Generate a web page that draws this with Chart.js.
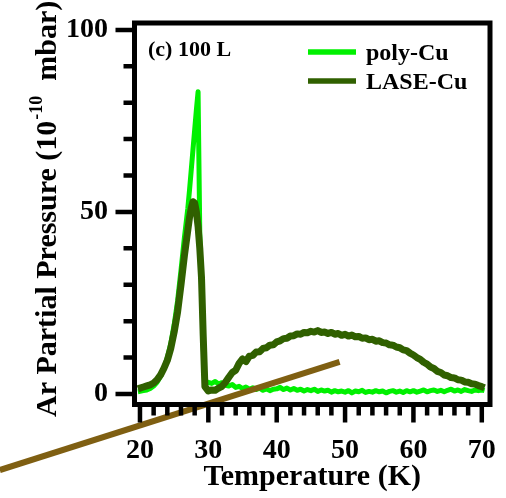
<!DOCTYPE html>
<html>
<head>
<meta charset="utf-8">
<script src="https://cdn.jsdelivr.net/npm/chart.js@4.4.0/dist/chart.umd.min.js"></script>
<style>
  html, body { margin: 0; padding: 0; background: #fff; }
  #chart { display: block; }
</style>
</head>
<body>
<canvas id="chart" width="506" height="498"></canvas>
<script>
// Temperature (K)
const temps = [19.7, 20, 20.5, 21, 21.5, 22, 22.5, 23, 23.5, 24, 24.5, 25, 25.5, 26, 26.5, 27, 27.25, 27.5, 27.75, 28, 28.25, 28.5, 28.75, 29, 29.25, 29.5,
  30, 30.5, 31, 31.5, 32, 32.5, 33, 33.5, 34, 34.5, 35, 35.5, 36, 36.5, 37, 37.5, 38, 38.5, 39, 39.5,
  40, 40.5, 41, 41.5, 42, 42.5, 43, 43.5, 44, 44.5, 45, 45.5, 46, 46.5, 47, 47.5, 48, 48.5, 49, 49.5,
  50, 50.5, 51, 51.5, 52, 52.5, 53, 53.5, 54, 54.5, 55, 55.5, 56, 56.5, 57, 57.5, 58, 58.5, 59, 59.5,
  60, 60.5, 61, 61.5, 62, 62.5, 63, 63.5, 64, 64.5, 65, 65.5, 66, 66.5, 67, 67.5, 68, 68.5, 69, 69.5,
  70, 70.4];

// Ar partial pressure (1e-10 mbar)
const polyCu = [0.6, 0.7, 0.9, 1.1, 1.5, 2.2, 3.2, 4.8, 7.0, 10, 13.8, 19, 25.5, 34, 43, 51, 56, 61.5, 67, 72.5, 78, 83, 44, 30, 13, 2.6,
  3.2, 2.9, 3.4, 2.7, 3.1, 2.4, 2.2, 2.6, 1.8, 2.1, 1.5, 1.9, 1.3, 1.7, 1.2, 1.6, 1.0, 1.4, 0.9, 1.3,
  1.4, 1.8, 1.2, 1.6, 1.1, 1.5, 1.0, 1.3, 0.8, 1.2, 0.9, 1.3, 0.7, 1.1, 0.8, 1.0, 0.5, 0.9, 0.6, 0.8,
  0.5, 0.9, 0.3, 0.8, 0.6, 1.0, 0.4, 0.7, 0.5, 0.9, 0.6, 0.8, 0.3, 0.7, 0.9, 0.5, 0.8, 0.4, 0.9, 0.6,
  0.9, 0.5, 0.8, 1.1, 0.6, 0.9, 1.1, 0.7, 1.0, 0.6, 1.0, 1.3, 0.8, 1.1, 0.7, 1.2, 0.9, 0.7, 1.1, 0.9,
  1.1, 0.9];

const laseCu = [1.4, 1.6, 1.9, 2.2, 2.5, 3.0, 3.9, 5.2, 7.0, 9.2, 12.5, 17, 22.5, 30, 38, 45, 48.5, 51, 52.8, 52.5, 50, 46, 40, 32, 16, 2,
  0.8, 1.1, 1.0, 1.6, 2.1, 3.2, 4.6, 5.9, 6.5, 8.4, 9.6, 8.9, 10.4, 10.6, 11.5, 11.6, 12.5, 12.7, 13.4, 13.5,
  14.3, 14.6, 15.2, 15.3, 15.9, 16.0, 16.5, 16.4, 16.9, 16.8, 17.2, 17.0, 17.4, 16.9, 17.0, 16.6, 16.9, 16.4, 16.6, 16.1,
  16.4, 15.9, 16.2, 15.7, 15.8, 15.3, 15.4, 14.9, 15.0, 14.5, 14.6, 14.1, 14.0, 13.5, 13.4, 12.9, 12.7, 12.1, 11.9, 11.2,
  10.7, 10.0, 9.5, 8.7, 8.2, 7.4, 7.0, 6.2, 5.9, 5.2, 5.0, 4.5, 4.4, 3.9, 3.8, 3.3, 3.2, 2.8, 2.7, 2.3,
  2.0, 1.7];

// stray brown stroke across the lower left corner
const strokeT = [-0.5, 49.2];
const strokeP = [-20.9, 8.8];

const xTicks = [20, 30, 40, 50, 60, 70];
const xMinor = [22, 24, 26, 28, 32, 34, 36, 38, 42, 44, 46, 48, 52, 54, 56, 58, 62, 64, 66, 68];
const yTicks = [0, 50, 100];
const yMinor = [10, 20, 30, 40, 60, 70, 80, 90];

const FONT = "'Liberation Serif', 'Times New Roman', serif";
Chart.defaults.font.family = FONT;
Chart.defaults.color = '#000';

const toPoints = (xs, ys) => xs.map((t, i) => ({ x: t, y: ys[i] }));

const framePlugin = {
    id: 'frame',
    afterDraw(chart) {
        const { ctx, chartArea: a, scales: { x, y } } = chart;
        ctx.save();

        // box
        ctx.strokeStyle = '#000';
        ctx.lineWidth = 5;
        ctx.strokeRect(a.left, a.top, a.right - a.left, a.bottom - a.top);

        // tick marks
        ctx.lineWidth = 4.5;
        ctx.lineCap = 'butt';
        ctx.beginPath();
        xTicks.forEach(v => { const p = x.getPixelForValue(v); ctx.moveTo(p, a.bottom); ctx.lineTo(p, a.bottom + 18); });
        xMinor.forEach(v => { const p = x.getPixelForValue(v); ctx.moveTo(p, a.bottom); ctx.lineTo(p, a.bottom + 11); });
        yTicks.forEach(v => { const p = y.getPixelForValue(v); ctx.moveTo(a.left, p); ctx.lineTo(a.left - 19, p); });
        yMinor.forEach(v => { const p = y.getPixelForValue(v); ctx.moveTo(a.left, p); ctx.lineTo(a.left - 11, p); });
        ctx.stroke();

        // y title with superscript
        ctx.translate(56, 417);
        ctx.rotate(-Math.PI / 2);
        ctx.textBaseline = 'alphabetic';
        ctx.textAlign = 'left';
        ctx.font = 'bold 30px ' + FONT;
        const part1 = 'Ar Partial Pressure (10';
        const w1 = ctx.measureText(part1).width;
        ctx.fillText(part1, 0, 0);
        ctx.font = 'bold 18px ' + FONT;
        const sup = '-10';
        const w2 = ctx.measureText(sup).width;
        ctx.fillText(sup, w1 + 1, -14);
        ctx.font = 'bold 30px ' + FONT;
        ctx.fillText('  mbar)', w1 + w2 + 1, 0);
        ctx.restore();

        // panel label
        ctx.save();
        ctx.fillStyle = '#000';
        ctx.font = 'bold 22px ' + FONT;
        ctx.textBaseline = 'middle';
        ctx.fillText('(c) 100 L', 148, 50);

        // legend
        const rows = [chart.data.datasets[0], chart.data.datasets[1]];
        ctx.font = 'bold 24px ' + FONT;
        rows.forEach((ds, i) => {
            const ly = [52, 81][i];
            ctx.strokeStyle = ds.borderColor;
            ctx.lineWidth = 5.5;
            ctx.beginPath();
            ctx.moveTo(308, ly);
            ctx.lineTo(356, ly);
            ctx.stroke();
            ctx.fillText(ds.label, 366, ly + 2);
        });
        ctx.restore();
    }
};

new Chart(document.getElementById('chart').getContext('2d'), {
    type: 'line',
    data: {
        datasets: [{
            label: 'poly-Cu',
            data: toPoints(temps, polyCu),
            borderColor: '#00f000',
            borderWidth: 5,
            pointRadius: 0,
            order: 3
        }, {
            label: 'LASE-Cu',
            data: toPoints(temps, laseCu),
            borderColor: '#306000',
            borderWidth: 7,
            pointRadius: 0,
            order: 2
        }, {
            label: 'stroke',
            data: toPoints(strokeT, strokeP),
            borderColor: '#7f5f12',
            borderWidth: 6,
            pointRadius: 0,
            clip: false,
            order: 1
        }]
    },
    options: {
        responsive: false,
        animation: false,
        layout: { padding: { top: 23, right: 16, bottom: 0, left: 0 } },
        plugins: { legend: { display: false }, tooltip: { enabled: false } },
        elements: { line: { tension: 0, borderJoinStyle: 'round' } },
        scales: {
            x: {
                type: 'linear',
                min: 19.2,
                max: 71.2,
                afterBuildTicks: s => { s.ticks = xTicks.map(v => ({ value: v })); },
                afterFit: s => { s.height = 93.5; s.paddingLeft = 0; s.paddingRight = 0; },
                grid: { display: false, drawTicks: false },
                border: { display: false },
                ticks: { font: { size: 28, weight: 'bold' }, color: '#000', padding: 29, maxRotation: 0, autoSkip: false },
                title: { display: true, text: 'Temperature (K)', font: { size: 30, weight: 'bold' }, color: '#000', padding: { top: 0, bottom: 3 } }
            },
            y: {
                min: -2.9,
                max: 101.9,
                afterBuildTicks: s => { s.ticks = yTicks.map(v => ({ value: v })); },
                afterFit: s => { s.width = 134.5; s.paddingTop = 0; s.paddingBottom = 0; },
                grid: { display: false, drawTicks: false },
                border: { display: false },
                ticks: { font: { size: 28, weight: 'bold' }, color: '#000', padding: 26.5 }
            }
        }
    },
    plugins: [framePlugin]
});
</script>
</body>
</html>
